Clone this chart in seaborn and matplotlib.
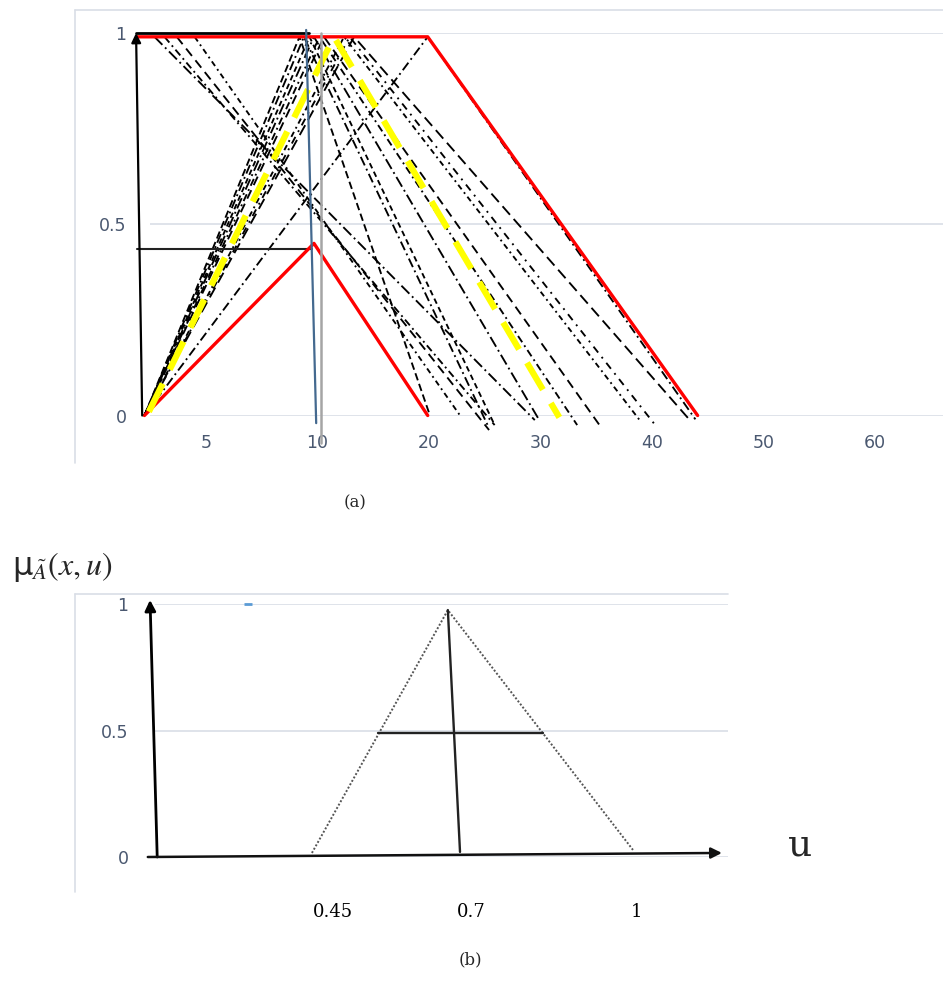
import matplotlib
matplotlib.use("Agg")
import matplotlib.pyplot as plt
from matplotlib.lines import Line2D
import seaborn as sns

# ---------------- panel (a) ----------------
a_xtick_pos = [0, 10, 20, 30, 40, 50, 60]
a_xtick_labels = ["5", "10", "20", "30", "40", "50", "60"]
a_xminor_pos = [-5, 5, 15, 25, 35, 45, 55, 65]
a_yticks = [0, 0.5, 1]
a_ytick_labels = ["0", "0.5", "1"]

red_low_x = [-5.5, 9.7, 19.9]
red_low_y = [0.0, 0.45, 0.0]
red_up_x = [-6.2, 19.9, 44.1]
red_up_y = [0.99, 0.99, 0.0]
yellow_x = [-5.1, 11.5, 31.7]
yellow_y = [0.01, 0.99, -0.005]

tri_start_x = -5.5
tri_peak_x = [8.4, 8.8, 9.3, 9.7, 10.2, 10.6, 12.4, 12.9, 13.3]
tri_end_x = [20.1, 25.4, 25.9, 29.9, 33.3, 35.3, 38.9, 40.3, 43.4]
tri_end_y = [0.0, -0.033, -0.025, -0.012, -0.025, -0.025, -0.012, -0.025, -0.012]

fall_start_x = [-4.6, -3.7, -2.6, -1.0]
fall_end_x = [29.5, 25.9, 25.4, 22.8]
fall_end_y = [-0.012, -0.025, -0.038, 0.0]

ridge_x = [-5.5, 19.9, 43.9]
ridge_y = [0.0, 0.99, -0.01]

left_arrow_x = [-5.7, -6.25]
left_arrow_y = [0.0, 1.0]
top_black_x = [-6.25, 9.3]
top_black_y = [1.0, 1.0]
half_line_x = [-6.2, 9.5]
half_line_y = [0.435, 0.435]
blue_x = [9.0, 9.9]
blue_y = [1.008, -0.02]
gray_x = [10.36, 10.36]
gray_y = [1.0, -0.072]

# ---------------- panel (b) ----------------
b_xtick_pos = [0.45, 0.7, 1.0]
b_xtick_labels = ["0.45", "0.7", "1"]
b_yticks = [0, 0.5, 1]
b_ytick_labels = ["0", "0.5", "1"]
tri_b_x = [0.412, 0.658, 0.993]
tri_b_y = [0.016, 0.976, 0.028]
vert_b_x = [0.658, 0.680]
vert_b_y = [0.976, 0.02]
horiz_b_x = [0.531, 0.830]
horiz_b_y = [0.49, 0.49]
yaxis_b_x = [0.132, 0.119]
yaxis_b_y = [0.0, 1.016]
xaxis_b_x = [0.115, 1.154]
xaxis_b_y = [0.0, 0.016]
dot_b_x = [0.296]
dot_b_y = [1.0]

W, H = 943, 991
sns.set_theme(style="white")
plt.rcParams["font.family"] = ["DejaVu Sans"]
plt.rcParams["mathtext.fontset"] = "stix"

fig = plt.figure(figsize=(W / 100, H / 100), dpi=100)

TICK_COLOR = "#4A5870"
GRID_COLOR = "#D9DEE6"


def px_axes(left, right, top, bottom):
    return fig.add_axes([left / W, 1 - bottom / H, (right - left) / W, (bottom - top) / H])


def line(ax, xs, ys, **kw):
    sns.lineplot(x=xs, y=ys, ax=ax, sort=False, estimator=None, legend=False,
                 clip_on=False, **kw)


# ===== panel (a) =====
ax = px_axes(150, 943, 33, 415.5)
ax.set_xlim(-5, 66.1)
ax.set_ylim(0, 1)
for s in ax.spines.values():
    s.set_visible(False)
for yv in a_yticks:
    ax.axhline(yv, color=GRID_COLOR, lw=1.2, zorder=0)
ax.set_xticks(a_xtick_pos)
ax.set_xticklabels(a_xtick_labels)
ax.set_xticks(a_xminor_pos, minor=True)
ax.tick_params(axis="x", which="major", length=0, pad=13, labelsize=12.5, labelcolor=TICK_COLOR)
ax.tick_params(axis="x", which="minor", length=5, width=1, color=GRID_COLOR, direction="out")
ax.set_yticks(a_yticks)
ax.set_yticklabels(a_ytick_labels)
ax.tick_params(axis="y", length=0, pad=17, labelsize=12.5, labelcolor=TICK_COLOR)

dash_styles = [(0, (4, 2)), (0, (5, 2, 1, 2)), (0, (3, 2)), (0, (6, 2, 1, 2)),
               (0, (4, 2, 1, 2)), (0, (5, 3)), (0, (3, 2, 1, 2)), (0, (4, 3, 1, 3)),
               (0, (6, 3))]
for i, (pk, ex, ey) in enumerate(zip(tri_peak_x, tri_end_x, tri_end_y)):
    line(ax, [tri_start_x, pk, ex], [0.0, 0.99, ey], color="black", lw=1.35,
         linestyle=dash_styles[i % len(dash_styles)])
for i, (sx, ex, ey) in enumerate(zip(fall_start_x, fall_end_x, fall_end_y)):
    line(ax, [sx, ex], [0.99, ey], color="black", lw=1.35,
         linestyle=dash_styles[(i + 3) % len(dash_styles)])
line(ax, ridge_x, ridge_y, color="black", lw=1.35, linestyle=(0, (5, 2, 1, 2)))

line(ax, half_line_x, half_line_y, color="#222222", lw=1.5)
line(ax, top_black_x, top_black_y, color="black", lw=2)
line(ax, red_up_x, red_up_y, color="#FF0000", lw=2.4)
line(ax, red_low_x, red_low_y, color="#FF0000", lw=2.4)
line(ax, yellow_x, yellow_y, color="#FFFF00", lw=4.5, linestyle=(0, (5, 2.5)))
line(ax, gray_x, gray_y, color="#A5A5A5", lw=1.8)
line(ax, blue_x, blue_y, color="#44698F", lw=1.6)
ax.annotate("", xy=(left_arrow_x[1], left_arrow_y[1]), xytext=(left_arrow_x[0], left_arrow_y[0]),
            arrowprops=dict(arrowstyle="-|>", color="black", lw=1.6, mutation_scale=14,
                            shrinkA=0, shrinkB=0), annotation_clip=False)

# ===== panel (b) =====
bx = px_axes(155, 728, 604, 857)
bx.set_xlim(0.128, 1.165)
bx.set_ylim(0, 1)
for s in bx.spines.values():
    s.set_visible(False)
for yv in b_yticks:
    bx.axhline(yv, color=GRID_COLOR, lw=1.2, zorder=0)
bx.set_xticks(b_xtick_pos)
bx.set_xticklabels(b_xtick_labels, family="DejaVu Serif", color="black")
bx.tick_params(axis="x", length=0, pad=33, labelsize=13)
bx.set_yticks(b_yticks)
bx.set_yticklabels(b_ytick_labels)
bx.tick_params(axis="y", length=0, pad=19, labelsize=12.5, labelcolor=TICK_COLOR)

line(bx, tri_b_x, tri_b_y, color="#555555", lw=1.4, linestyle=(0, (1, 1)))
line(bx, vert_b_x, vert_b_y, color="#222222", lw=1.7)
line(bx, horiz_b_x, horiz_b_y, color="#222222", lw=1.7)
bx.annotate("", xy=(yaxis_b_x[1], yaxis_b_y[1]), xytext=(yaxis_b_x[0], yaxis_b_y[0]),
            arrowprops=dict(arrowstyle="-|>", color="black", lw=2, mutation_scale=16,
                            shrinkA=0, shrinkB=0), annotation_clip=False)
bx.annotate("", xy=(xaxis_b_x[1], xaxis_b_y[1]), xytext=(xaxis_b_x[0], xaxis_b_y[0]),
            arrowprops=dict(arrowstyle="-|>", color="#111111", lw=1.8, mutation_scale=16,
                            shrinkA=0, shrinkB=0), annotation_clip=False)
sns.scatterplot(x=dot_b_x, y=dot_b_y, ax=bx, color="#5B9BD5", marker="_", s=30,
                linewidth=2, clip_on=False, legend=False)

# ===== frame lines of the two chart areas =====
BORDER = "#D9DEE6"
fig.add_artist(Line2D([75 / W, 1.0], [1 - 9.5 / H, 1 - 9.5 / H], color=BORDER, lw=1.2))
fig.add_artist(Line2D([75 / W, 75 / W], [1 - 9.5 / H, 1 - 463 / H], color=BORDER, lw=1.2))
fig.add_artist(Line2D([75 / W, 728 / W], [1 - 594 / H, 1 - 594 / H], color=BORDER, lw=1.2))
fig.add_artist(Line2D([75 / W, 75 / W], [1 - 594 / H, 1 - 892 / H], color=BORDER, lw=1.2))

# ===== texts =====
fig.text(355 / W, 1 - 503 / H, "(a)", ha="center", va="center", family="DejaVu Serif", fontsize=12)
fig.text(470 / W, 1 - 960 / H, "(b)", ha="center", va="center", family="DejaVu Serif", fontsize=12)
fig.text(12 / W, 1 - 567 / H, r"μ$_{\tilde{A}}(x,u)$", ha="left", va="center",
         family="DejaVu Sans", fontsize=23)
fig.text(800 / W, 1 - 845 / H, "u", ha="center", va="center", family="DejaVu Serif", fontsize=27)

fig.savefig("out.png", dpi=100)
